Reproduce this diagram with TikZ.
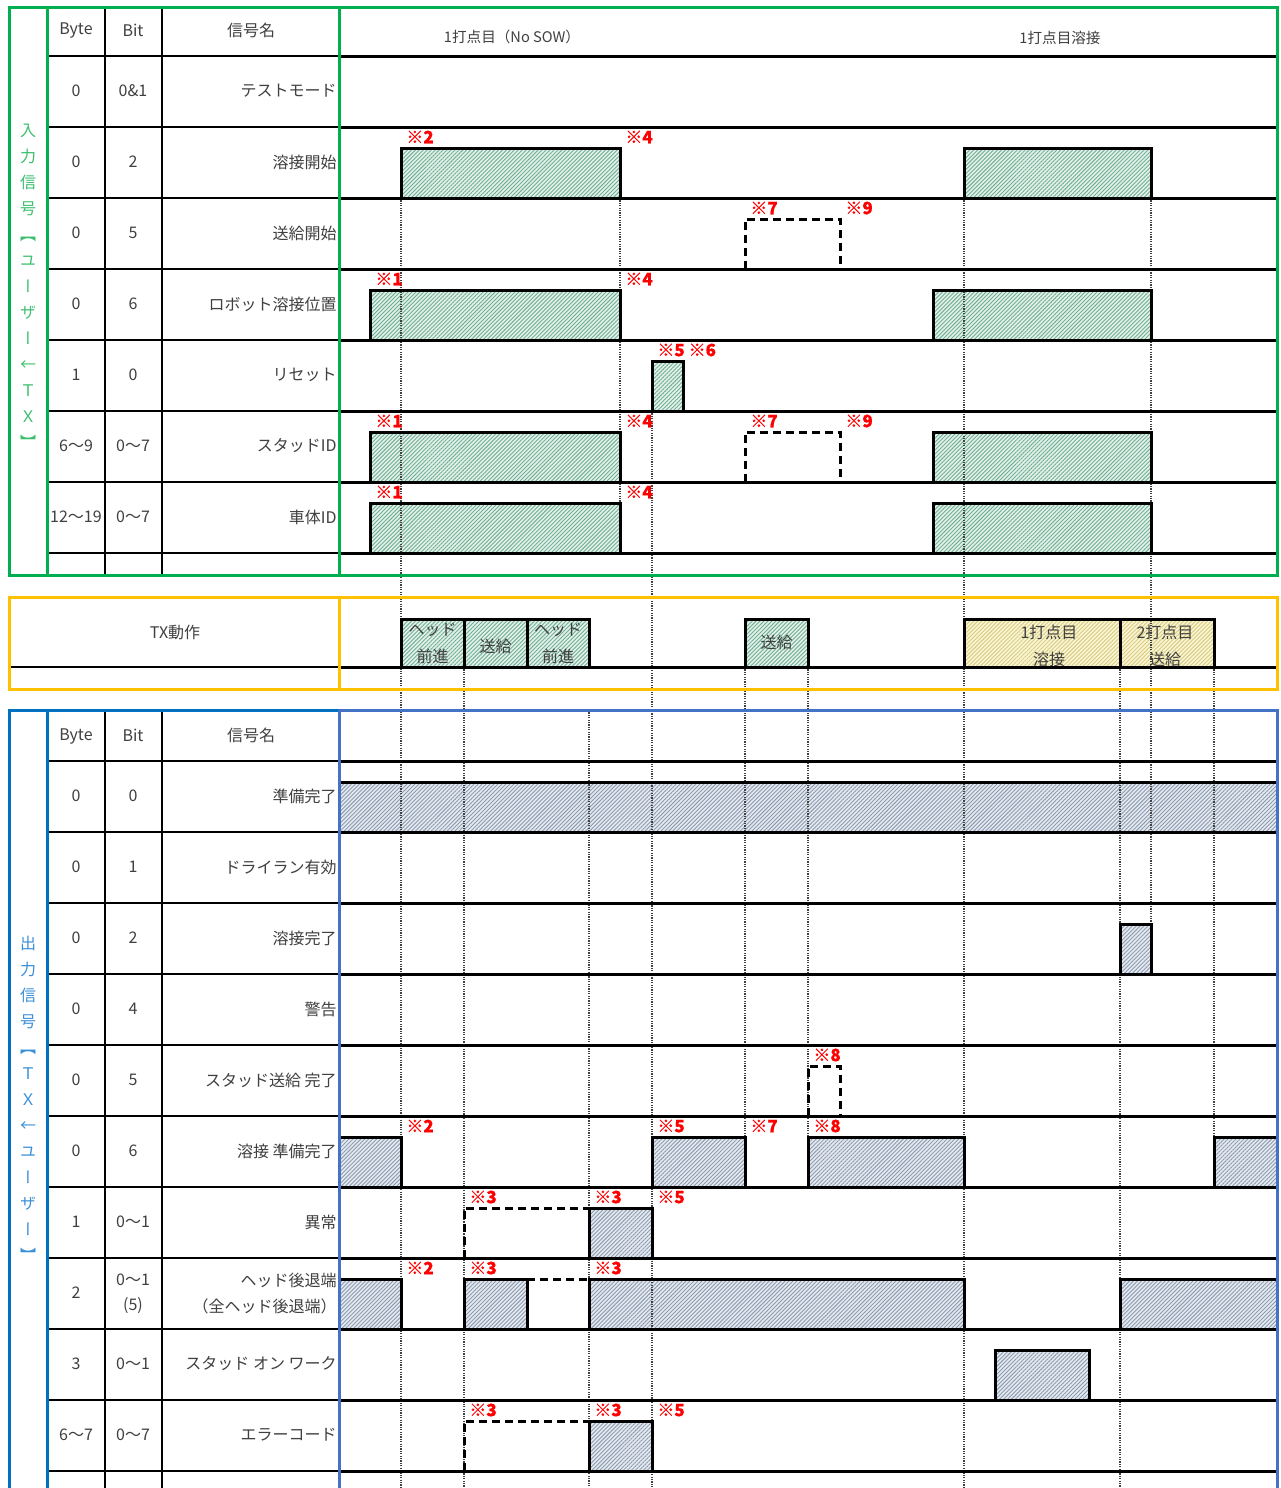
\documentclass[tikz,border=0pt]{standalone}
\usepackage{fontspec}
\setmainfont{Noto Sans CJK JP}
\newfontfamily\vfont[RawFeature={+vert}]{Noto Sans CJK JP}
\newfontfamily\rfont[BoldFeatures={FakeBold=0.6}]{Noto Sans CJK JP}
\usetikzlibrary{patterns.meta}
\definecolor{gbord}{HTML}{00B050}
\definecolor{obord}{HTML}{FFC000}
\definecolor{bbord}{HTML}{0070C0}
\definecolor{bbord2}{HTML}{4472C4}
\definecolor{glab}{HTML}{3CBF6E}
\definecolor{blab}{HTML}{3A8FD8}
\definecolor{txt}{HTML}{404040}
\definecolor{gbase}{HTML}{E3F1EA}
\definecolor{gline}{HTML}{6FAE94}
\definecolor{bbase}{HTML}{E6EAF0}
\definecolor{bline}{HTML}{8A9BB0}
\definecolor{ybase}{HTML}{FBF6D2}
\definecolor{yline}{HTML}{D6CA84}
\begin{document}
\begin{tikzpicture}[x=0.5pt,y=-0.5pt,
  sig/.style={line width=1.5pt, line join=miter},
  dsig/.style={sig, dash pattern=on 4pt off 2.5pt},
  gridl/.style={line width=1pt},
  vdot/.style={line width=0.6pt, dash pattern=on 0.6pt off 0.6pt, black!75},
  gh/.style={fill=gbase, postaction={pattern={Lines[angle=45,distance=1.4pt,line width=0.45pt]}, pattern color=gline}},
  bh/.style={fill=bbase, postaction={pattern={Lines[angle=45,distance=1.4pt,line width=0.45pt]}, pattern color=bline}},
  yh/.style={fill=ybase, postaction={pattern={Lines[angle=45,distance=1.4pt,line width=0.45pt]}, pattern color=yline}},
  cell/.style={font=\fontsize{8}{10}\selectfont, text=txt, inner sep=0pt},
  nm/.style={cell, anchor=east},
  rmk/.style={font=\rfont\bfseries\fontsize{8.5}{10}\selectfont, text=red, anchor=west, inner sep=0pt},
  bord/.style={line width=1.5pt}
]
\useasboundingbox (0,0) rectangle (1280,1488);
\fill[white] (0,0) rectangle (1280,1488);

% ---------- hatched fills ----------
% input
\fill[gh] (401,148) rectangle (620,198);
\fill[gh] (964,148) rectangle (1151,198);
\fill[gh] (370,290) rectangle (620,340);
\fill[gh] (933,290) rectangle (1151,340);
\fill[gh] (652,361) rectangle (683,411);
\fill[gh] (370,432) rectangle (620,482);
\fill[gh] (933,432) rectangle (1151,482);
\fill[gh] (370,503) rectangle (620,553);
\fill[gh] (933,503) rectangle (1151,553);
% TX
\fill[gh] (401,619) rectangle (589,667);
\fill[gh] (745,619) rectangle (808,667);
\fill[yh] (964,619) rectangle (1214,667);
% output
\fill[bh] (339,782) rectangle (1277,832);
\fill[bh] (1120,924) rectangle (1151,974);
\fill[bh] (339,1137) rectangle (401,1187);
\fill[bh] (652,1137) rectangle (745,1187);
\fill[bh] (808,1137) rectangle (964,1187);
\fill[bh] (1214,1137) rectangle (1277,1187);
\fill[bh] (589,1208) rectangle (652,1258);
\fill[bh] (339,1279) rectangle (401,1329);
\fill[bh] (464,1279) rectangle (527,1329);
\fill[bh] (589,1279) rectangle (964,1329);
\fill[bh] (1120,1279) rectangle (1277,1329);
\fill[bh] (995,1350) rectangle (1089,1400);
\fill[bh] (589,1421) rectangle (652,1471);

% ---------- dotted guide lines ----------
\draw[vdot] (401,198) -- (401,1488);
\draw[vdot] (620,198) -- (620,553);
\draw[vdot] (652,411) -- (652,1488);
\draw[vdot] (464,667) -- (464,1488);
\draw[vdot] (589,710) -- (589,1488);
\draw[vdot] (745,667) -- (745,1137);
\draw[vdot] (808,667) -- (808,1137);
\draw[vdot] (964,198) -- (964,1488);
\draw[vdot] (1120,667) -- (1120,1488);
\draw[vdot] (1151,198) -- (1151,924);
\draw[vdot] (1214,667) -- (1214,1137);

% ---------- input grid ----------
\draw[gridl] (105,7) -- (105,575);
\draw[gridl] (162,7) -- (162,575);
\foreach \y in {56,127,198,269,340,411,482,553} {
  \draw[gridl] (47,\y) -- (339,\y);
  \draw[sig] (339,\y) -- (1277,\y);
}
% ---------- TX grid ----------
\draw[gridl] (9,667) -- (339,667);
\draw[sig] (339,667) -- (1277,667);
% ---------- output grid ----------
\draw[gridl] (105,710) -- (105,1488);
\draw[gridl] (162,710) -- (162,1488);
\foreach \y in {761,832,903,974,1045,1116,1187,1258,1329,1400,1471} {
  \draw[gridl] (47,\y) -- (339,\y);
  \draw[sig] (339,\y) -- (1277,\y);
}

% ---------- signal outlines ----------
% input
\draw[sig] (401,198) |- (620,148) -- (620,198);
\draw[sig] (964,198) |- (1151,148) -- (1151,198);
\draw[dsig] (745,269) |- (840,219) -- (840,269);
\draw[sig] (370,340) |- (620,290) -- (620,340);
\draw[sig] (933,340) |- (1151,290) -- (1151,340);
\draw[sig] (652,411) |- (683,361) -- (683,411);
\draw[sig] (370,482) |- (620,432) -- (620,482);
\draw[dsig] (745,482) |- (840,432) -- (840,482);
\draw[sig] (933,482) |- (1151,432) -- (1151,482);
\draw[sig] (370,553) |- (620,503) -- (620,553);
\draw[sig] (933,553) |- (1151,503) -- (1151,553);
% TX
\draw[sig] (401,667) |- (464,619) -- (464,667);
\draw[sig] (464,667) |- (527,619) -- (527,667);
\draw[sig] (527,667) |- (589,619) -- (589,667);
\draw[sig] (745,667) |- (808,619) -- (808,667);
\draw[sig] (964,667) |- (1120,619) -- (1120,667);
\draw[sig] (1120,667) |- (1214,619) -- (1214,667);
% output
\draw[sig] (339,782) -- (1277,782);
\draw[sig] (1120,974) |- (1151,924) -- (1151,974);
\draw[dsig] (808,1116) |- (840,1066) -- (840,1116);
\draw[sig] (339,1137) -| (401,1187);
\draw[sig] (652,1187) |- (745,1137) -- (745,1187);
\draw[sig] (808,1187) |- (964,1137) -- (964,1187);
\draw[sig] (1214,1187) |- (1277,1137);
\draw[dsig] (464,1258) |- (589,1208);
\draw[sig] (589,1258) |- (652,1208) -- (652,1258);
\draw[sig] (339,1279) -| (401,1329);
\draw[sig] (464,1329) |- (527,1279) -- (527,1329);
\draw[dsig] (527,1279) -- (589,1279);
\draw[sig] (589,1329) |- (964,1279) -- (964,1329);
\draw[sig] (1120,1329) |- (1277,1279);
\draw[sig] (995,1400) |- (1089,1350) -- (1089,1400);
\draw[dsig] (464,1471) |- (589,1421);
\draw[sig] (589,1471) |- (652,1421) -- (652,1471);

% ---------- coloured borders ----------
\draw[bord, gbord] (9,7) rectangle (1277,575);
\draw[bord, gbord] (47,7) -- (47,575);
\draw[bord, gbord] (339,7) -- (339,575);
\draw[bord, obord] (9,597) rectangle (1277,689);
\draw[bord, obord] (339,597) -- (339,689);
\draw[bord, bbord] (9,1488) -- (9,710) -- (339,710);
\draw[bord, bbord2] (339,710) -- (1277,710) -- (1277,1488);
\draw[bord, bbord] (47,710) -- (47,1488);
\draw[bord, bbord2] (339,710) -- (339,1488);

% ---------- vertical section labels ----------
\node[font=\vfont\fontsize{8}{13}\selectfont, text=glab, align=center, inner sep=0pt] (vin) at (28,286)
  {入\\力\\信\\号\\【\\ユ\\ー\\ザ\\ー\\{\normalfont ←}\\Ｔ\\Ｘ\\】};
\node[font=\vfont\fontsize{8}{13}\selectfont, text=blab, align=center, inner sep=0pt] (vout) at (28,1099)
  {出\\力\\信\\号\\【\\Ｔ\\Ｘ\\{\normalfont ←}\\ユ\\ー\\ザ\\ー\\】};

% ---------- headers ----------
\node[cell] (ihb) at (76,31) {Byte};
\node[cell] (ihbit) at (133,30) {Bit};
\node[cell] (ihn) at (251,30) {信号名};
\node[cell, font=\fontsize{7.3}{9}\selectfont] (h1) at (512,37) {1打点目（No SOW）};
\node[cell, font=\fontsize{7.3}{9}\selectfont] (h2) at (1060,38) {1打点目溶接};
\node[cell] (ohb) at (76,736) {Byte};
\node[cell] (ohbit) at (133,735) {Bit};
\node[cell] (ohn) at (251,735) {信号名};

% ---------- input table ----------
\foreach \y/\b/\bi/\n [count=\i] in {91/0/0\&1/テストモード, 162/0/2/溶接開始, 233/0/5/送給開始,
   304/0/6/ロボット溶接位置, 375/1/0/リセット, 446/6～9/0～7/スタッドID, 517/12～19/0～7/車体ID} {
  \node[cell] (ib\i) at (76,\y) {\b};
  \node[cell] (it\i) at (133,\y) {\bi};
  \node[nm] (in\i) at (337,\y) {\n};
}
% ---------- output table ----------
\foreach \y/\b/\bi/\n [count=\i] in {796/0/0/準備完了, 867/0/1/ドライラン有効, 938/0/2/溶接完了,
   1009/0/4/警告, 1080/0/5/スタッド送給 完了, 1151/0/6/溶接 準備完了, 1222/1/0～1/異常,
   1364/3/0～1/スタッド オン ワーク, 1435/6～7/0～7/エラーコード} {
  \node[cell] (ob\i) at (76,\y) {\b};
  \node[cell] (ot\i) at (133,\y) {\bi};
  \node[nm] (on\i) at (337,\y) {\n};
}
\node[cell] (obh) at (76,1293) {2};
\node[cell] (oth1) at (133,1280) {0～1};
\node[cell] (oth2) at (133,1306) {(5)};
\node[nm] (onh1) at (337,1280) {ヘッド後退端};
\node[nm] (onh2) at (337,1306) {（全ヘッド後退端）};

% ---------- TX texts ----------
\node[cell] (txl) at (175,632) {TX動作};
\node[cell, align=center, font=\fontsize{8}{13.5}\selectfont] (tx1) at (432.5,643) {ヘッド\\前進};
\node[cell] (tx2) at (495.5,646) {送給};
\node[cell, align=center, font=\fontsize{8}{13.5}\selectfont] (tx3) at (558,643) {ヘッド\\前進};
\node[cell] (tx4) at (776.5,642) {送給};
\node[cell, align=center, font=\fontsize{8}{13.5}\selectfont] (tx5) at (1049,646) {1打点目\\溶接};
\node[cell, align=center, font=\fontsize{8}{13.5}\selectfont] (tx6) at (1165,646) {2打点目\\送給};

% ---------- red remarks ----------
\foreach \x/\y/\t [count=\i] in {401/127/※2, 620/127/※4, 745/198/※7, 840/198/※9,
   370/269/※1, 620/269/※4, 652/340/※5 ※6, 370/411/※1, 620/411/※4, 745/411/※7, 840/411/※9,
   370/482/※1, 620/482/※4,
   808/1045/※8, 401/1116/※2, 652/1116/※5, 745/1116/※7, 808/1116/※8,
   464/1187/※3, 589/1187/※3, 652/1187/※5,
   401/1258/※2, 464/1258/※3, 589/1258/※3,
   464/1400/※3, 589/1400/※3, 652/1400/※5} {
  \node[rmk] (r\i) at (\x+5,\y+10) {\t};
}
\end{tikzpicture}
\end{document}
